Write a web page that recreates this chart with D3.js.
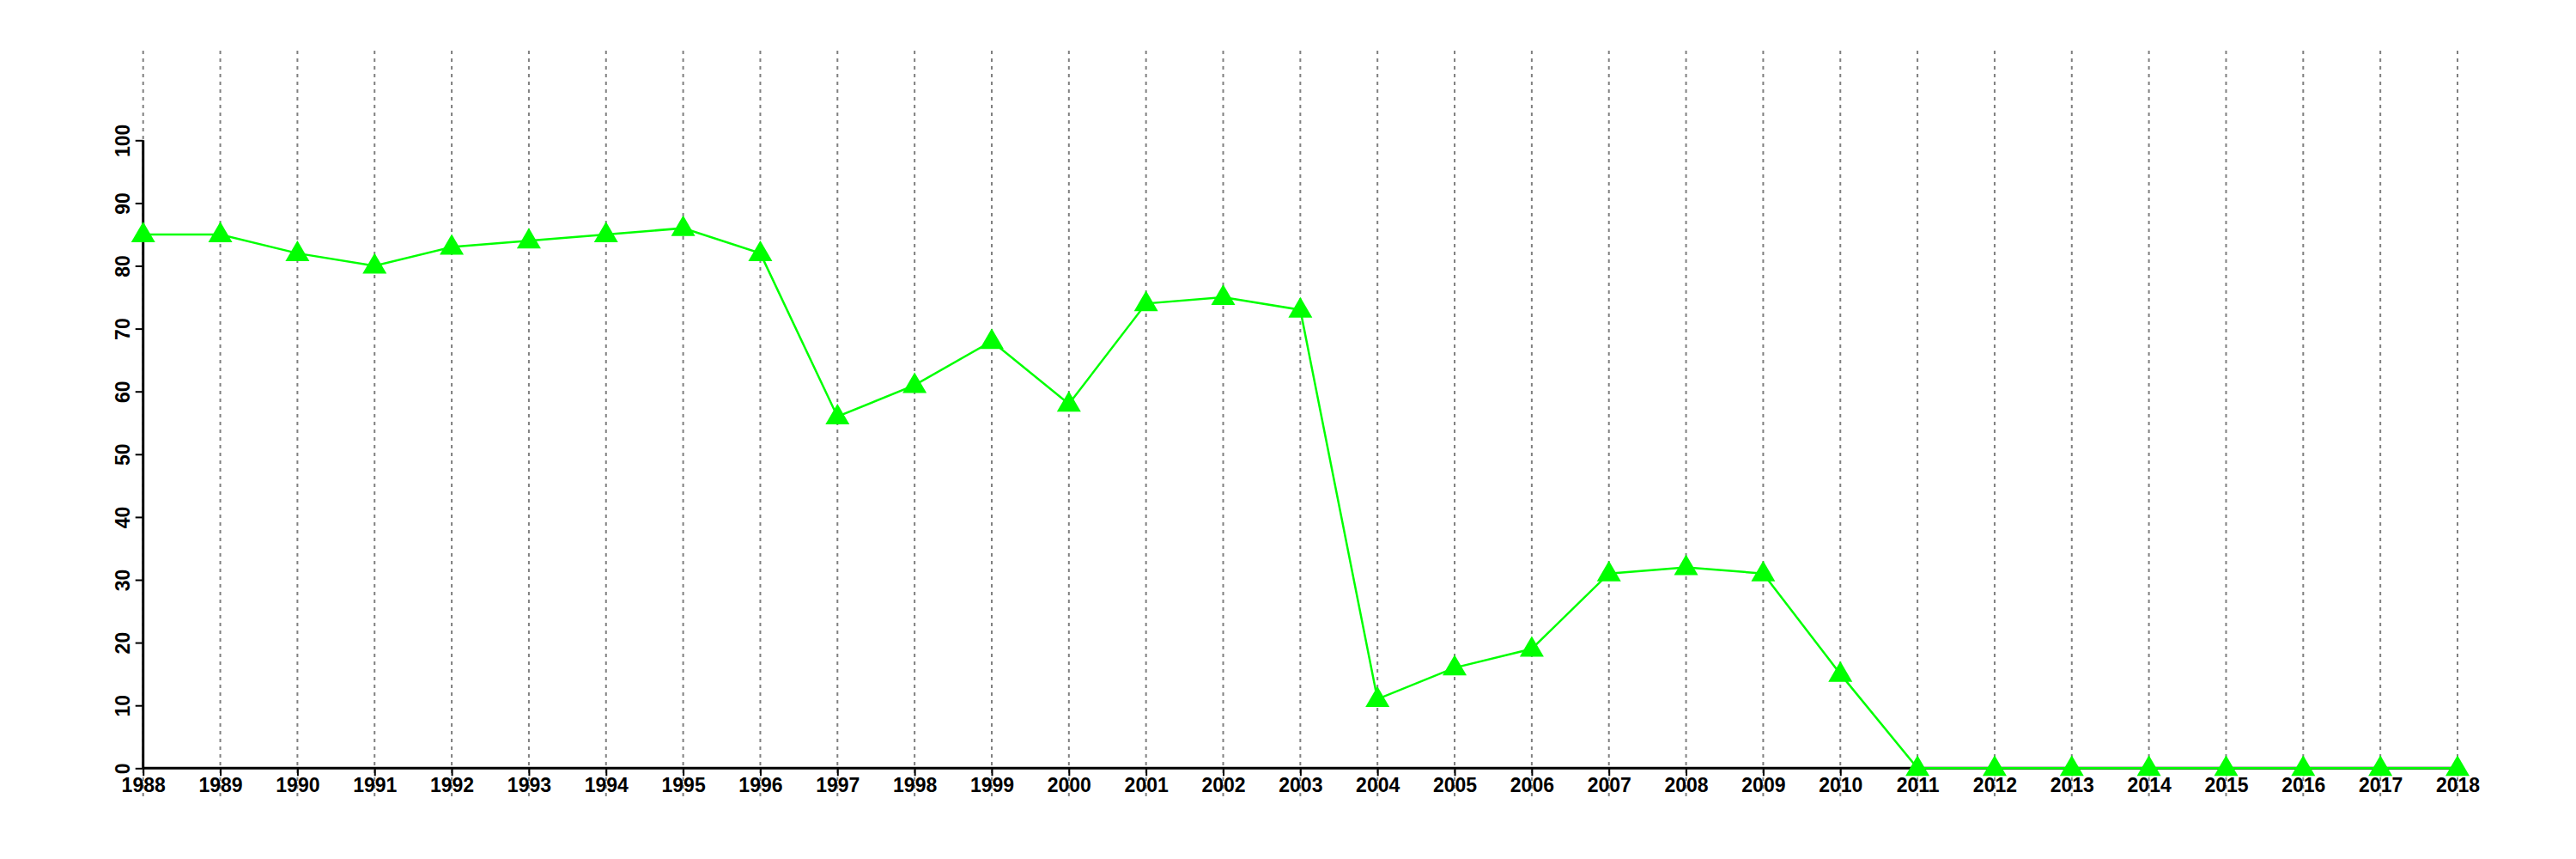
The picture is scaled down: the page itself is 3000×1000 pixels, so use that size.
<!DOCTYPE html>
<html>
<head>
<meta charset="utf-8">
<script src="https://cdn.jsdelivr.net/npm/d3@7"></script>
<style>
  html, body { margin: 0; padding: 0; background: #fff; }
  svg { display: block; }
  text { font-family: "Liberation Sans", Arial, Helvetica, sans-serif; font-weight: bold; }
</style>
</head>
<body>
<svg id="chart" width="3000" height="1000"></svg>
<script>
const years = [1988,1989,1990,1991,1992,1993,1994,1995,1996,1997,1998,1999,2000,2001,2002,2003,2004,2005,2006,2007,2008,2009,2010,2011,2012,2013,2014,2015,2016,2017,2018];
const values = [85,85,82,80,83,84,85,86,82,56,61,68,58,74,75,73,11,16,19,31,32,31,15,0,0,0,0,0,0,0,0];
const yTicks = [0,10,20,30,40,50,60,70,80,90,100];

const svg = d3.select("#chart");
const x = d3.scaleLinear().domain([1988, 2018]).range([166.7, 2862]);
const y = d3.scaleLinear().domain([0, 100]).range([894.3, 163.3]);

// vertical dashed grid lines
svg.append("g").selectAll("line").data(years).join("line")
  .attr("x1", d => x(d)).attr("x2", d => x(d))
  .attr("y1", 59).attr("y2", 928)
  .attr("stroke", "#808080").attr("stroke-width", 2)
  .attr("stroke-dasharray", "4,5");

// y axis
const yAxis = d3.axisLeft(y).tickValues(yTicks).tickSize(9).tickPadding(6).tickFormat(d3.format("d"));
const gy = svg.append("g").attr("transform", `translate(${x(1988)},0)`).call(yAxis);
gy.select(".domain").attr("stroke", "#000").attr("stroke-width", 3).attr("d", `M0,${y(0)}V${y(100)}`);
gy.selectAll(".tick line").attr("stroke", "#000").attr("stroke-width", 2);
gy.selectAll(".tick text")
  .attr("font-size", 23).attr("fill", "#000")
  .attr("x", null).attr("dy", null)
  .attr("transform", "translate(-24,0) rotate(-90)")
  .attr("text-anchor", "middle").attr("dominant-baseline", "central");

// x axis
const xAxis = d3.axisBottom(x).tickValues(years).tickSize(9).tickPadding(2).tickFormat(d3.format("d"));
const gx = svg.append("g").attr("transform", `translate(0,${y(0)})`).call(xAxis);
gx.select(".domain").attr("stroke", "#000").attr("stroke-width", 3).attr("d", `M${x(1988)},0H${x(2018)}`);
gx.selectAll(".tick line").attr("stroke", "#000").attr("stroke-width", 2);
gx.selectAll(".tick text").attr("font-size", 23).attr("fill", "#000");

const data = years.map((d, i) => ({ year: d, value: values[i] }));

// line
svg.append("path").datum(data)
  .attr("fill", "none").attr("stroke", "#00ff00").attr("stroke-width", 2.5)
  .attr("d", d3.line().x(d => x(d.year)).y(d => y(d.value)));

// triangle markers
svg.append("g").selectAll("path").data(data).join("path")
  .attr("transform", d => `translate(${x(d.year)},${y(d.value)})`)
  .attr("d", "M0,-15L14,9L-14,9Z")
  .attr("fill", "#00ff00");
</script>
</body>
</html>
